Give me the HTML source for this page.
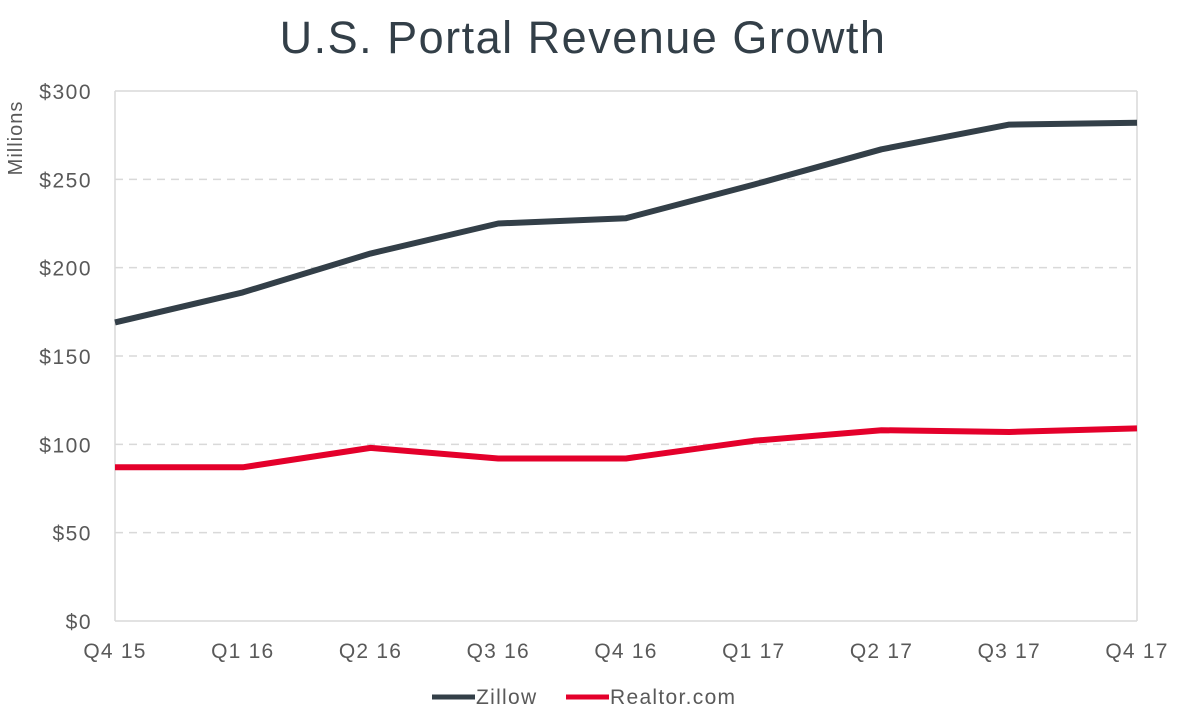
<!DOCTYPE html>
<html><head><meta charset="utf-8"><style>
html,body{margin:0;padding:0;background:#fff;width:1182px;height:718px;overflow:hidden}
svg{display:block;font-family:"Liberation Sans",sans-serif}
</style></head><body>
<svg id="chart" width="1182" height="718" viewBox="0 0 1182 718">
<text x="583" y="53" text-anchor="middle" font-size="45" letter-spacing="1.5" fill="#333f48">U.S. Portal Revenue Growth</text>
<text transform="translate(22,138) rotate(-90)" text-anchor="middle" font-size="20" letter-spacing="1" fill="#595959">Millions</text>
<g id="grid"></g><g id="series"></g><g id="labels"></g>
<g>
<line x1="432" y1="697" x2="475" y2="697" stroke="#333f48" stroke-width="5"/>
<text x="476" y="704" font-size="21" letter-spacing="1.3" fill="#595959">Zillow</text>
<line x1="566" y1="697" x2="609" y2="697" stroke="#e4002b" stroke-width="5"/>
<text x="610" y="704" font-size="21" letter-spacing="1.3" fill="#595959">Realtor.com</text>
</g>
</svg>
<script>
const categories=["Q4 15","Q1 16","Q2 16","Q3 16","Q4 16","Q1 17","Q2 17","Q3 17","Q4 17"];
const zillow=[169,186,208,225,228,247,267,281,282];
const realtor=[87,87,98,92,92,102,108,107,109];
const yTicks=[0,50,100,150,200,250,300];
const yTickLabels=["$0","$50","$100","$150","$200","$250","$300"];
const NS="http://www.w3.org/2000/svg";
const L=115,R=1137,T=91,B=621;
const x=i=>L+(R-L)*i/(categories.length-1);
const y=v=>B-(B-T)*v/300;
function mk(tag,attrs,parent){const e=document.createElementNS(NS,tag);for(const k in attrs)e.setAttribute(k,attrs[k]);document.getElementById(parent).appendChild(e);return e;}
yTicks.forEach((v,i)=>{
  const solid=(v===0||v===300);
  const g=mk('line',{x1:L,x2:R,y1:y(v),y2:y(v),stroke:'#d9d9d9','stroke-width':1.5,'stroke-dasharray':solid?'none':'8,6'},'grid');
  
  
  const t=mk('text',{x:92,y:y(v)+8,'text-anchor':'end','font-size':21,'letter-spacing':1.5,fill:'#595959'},'labels');
  t.textContent=yTickLabels[i];
  
  
});
[L,R].forEach(px=>{const v=mk('line',{x1:px,x2:px,y1:T,y2:B,stroke:'#d9d9d9','stroke-width':1.5},'grid');

});
categories.forEach((c,i)=>{const t=mk('text',{x:x(i),y:658,'text-anchor':'middle','font-size':21,'letter-spacing':1.2,fill:'#595959'},'labels');
t.textContent=c;

});
function line(data,color,name){const p=mk('polyline',{points:data.map((v,i)=>x(i)+','+y(v)).join(' '),fill:'none',stroke:color,'stroke-width':6,'stroke-linejoin':'round'},'series');

}
line(zillow,'#333f48','zillow-line');
line(realtor,'#e4002b','realtor-line');
</script>
</body></html>
